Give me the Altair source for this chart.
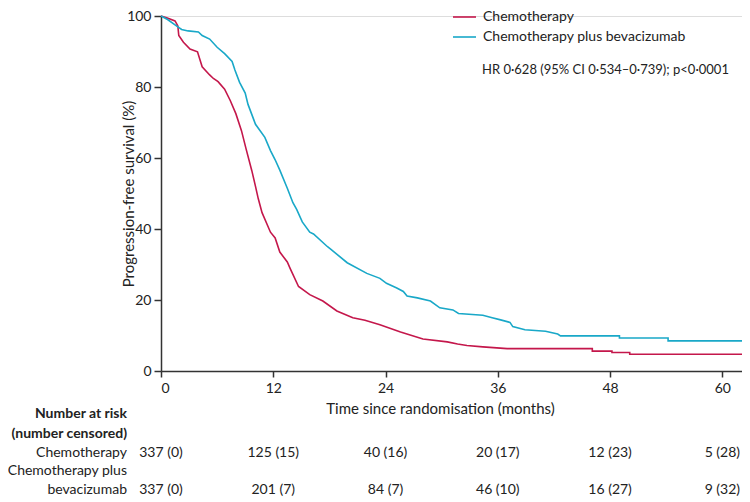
import altair as alt
import pandas as pd

# Kaplan-Meier curves (time in months, progression-free survival %)
chemo_t = [0, 0.6, 1.5, 1.8, 1.9, 2.4, 3.1, 3.9, 4.4, 5.2, 5.6, 6.1, 6.8, 7.4, 8.0, 8.6, 9.1,
           9.7, 10.1, 10.4, 10.8, 11.7, 12.2, 12.7, 13.5, 13.8, 14.7, 15.9, 17.3, 18.8, 20.5,
           21.8, 23.4, 25.6, 28.0, 30.6, 31.7, 32.7, 34.4, 37.0, 46.1, 46.1, 48.2, 48.2,
           50.1, 50.1, 62.1]
chemo_s = [100, 99.5, 98.6, 97.2, 94.5, 92.6, 90.7, 89.9, 85.7, 83.4, 82.4, 81.5, 79.4, 76.2,
           72.5, 67.7, 62.5, 56.5, 52.0, 48.5, 44.6, 39.1, 37.5, 33.5, 30.7, 28.9, 23.8, 21.5,
           19.7, 16.9, 15.0, 14.3, 13.0, 11.0, 9.0, 8.2, 7.6, 7.2, 6.8, 6.3, 6.3, 5.6, 5.6, 5.2,
           5.2, 4.7, 4.7]

bev_t = [0, 0.7, 1.5, 2.2, 2.9, 4.0, 4.4, 5.2, 6.0, 6.8, 7.6, 7.9, 8.4, 9.0, 9.3, 10.1, 11.1,
         11.7, 12.2, 12.7, 13.5, 14.1, 14.5, 15.1, 15.9, 16.3, 17.8, 18.1, 19.9, 22.0, 23.4,
         24.1, 25.2, 25.9, 26.3, 27.4, 28.8, 29.8, 31.2, 31.8, 34.4, 35.4, 36.3, 37.3, 37.6,
         38.9, 41.1, 42.4, 42.7, 49.0, 49.0, 54.2, 54.2, 62.1]
bev_s = [100, 99.0, 97.5, 96.2, 95.8, 95.5, 94.5, 93.5, 91.2, 89.4, 87.2, 84.8, 81.3, 78.3,
         75.1, 69.5, 65.8, 62.1, 59.5, 56.6, 51.5, 47.4, 45.5, 42.0, 39.1, 38.6, 35.0, 34.4,
         30.5, 27.5, 26.1, 24.7, 23.4, 22.4, 21.1, 20.6, 19.7, 17.8, 17.2, 16.2, 15.7, 15.0,
         14.4, 13.7, 12.5, 11.6, 11.2, 10.4, 9.9, 9.9, 9.3, 9.3, 8.5, 8.5]

groups = ["Chemotherapy", "Chemotherapy plus bevacizumab"]
colors = ["#c4174b", "#19a8c8"]

risk_times = [0, 12, 24, 36, 48, 60]
risk_chemo = ["337 (0)", "125 (15)", "40 (16)", "20 (17)", "12 (23)", "5 (28)"]
risk_bev = ["337 (0)", "201 (7)", "84 (7)", "46 (10)", "16 (27)", "9 (32)"]

x_ticks = [0, 12, 24, 36, 48, 60]
y_ticks = [0, 20, 40, 60, 80, 100]

FONT = "Lato"
W, H = 581, 355

curves = pd.concat([
    pd.DataFrame({"t": chemo_t, "s": chemo_s, "g": groups[0], "o": range(len(chemo_t))}),
    pd.DataFrame({"t": bev_t, "s": bev_s, "g": groups[1], "o": range(len(bev_t))}),
])

xscale = alt.Scale(domain=[0, 62.1], nice=False, zero=False)

lines = alt.Chart(curves).mark_line(strokeWidth=1.6).encode(
    x=alt.X("t:Q", scale=xscale,
            axis=alt.Axis(values=x_ticks, title="Time since randomisation (months)",
                          grid=False, tickSize=6, labelPadding=4, titlePadding=6,
                          titleX=279, labelFontSize=14, titleFontSize=15,
                          titleFontWeight="normal", labelFont=FONT, titleFont=FONT,
                          domainColor="#333", tickColor="#333", domainWidth=1.5,
                          tickWidth=1.5, labelColor="#222", titleColor="#222")),
    y=alt.Y("s:Q", scale=alt.Scale(domain=[0, 100], nice=False),
            axis=alt.Axis(values=y_ticks, title="Progression-free survival (%)",
                          grid=False, tickSize=7, labelPadding=3,
                          titleX=-33, titleY=H / 2, titleBaseline="middle",
                          titleAlign="center", titleAngle=270,
                          labelFontSize=14, titleFontSize=15, titleFontWeight="normal",
                          labelFont=FONT, titleFont=FONT, domainColor="#333",
                          tickColor="#333", domainWidth=1.5, tickWidth=1.5,
                          labelColor="#222", titleColor="#222")),
    color=alt.Color("g:N", scale=alt.Scale(domain=groups, range=colors),
                    legend=alt.Legend(orient="none", legendX=291, legendY=-11.5, title=None,
                                      symbolType="stroke", symbolSize=529,
                                      symbolStrokeWidth=1.6, labelOffset=6, labelLimit=400,
                                      labelFont=FONT, labelFontSize=14, labelColor="#222",
                                      rowPadding=0, padding=0)),
    order="o:Q",
)

hr = alt.Chart(pd.DataFrame({"txt": ["HR 0·628 (95% CI 0·534–0·739); p<0·0001"]})).mark_text(
    align="left", baseline="middle", font=FONT, fontSize=13, color="#222"
).encode(x=alt.value(321), y=alt.value(54), text="txt:N")

risk_df = pd.DataFrame({"t": risk_times, "c": risk_chemo, "b": risk_bev})
risk_c = alt.Chart(risk_df).mark_text(baseline="middle", font=FONT, fontSize=14, color="#222").encode(
    x=alt.X("t:Q", scale=xscale), y=alt.value(436.7), text="c:N")
risk_b = alt.Chart(risk_df).mark_text(baseline="middle", font=FONT, fontSize=14, color="#222").encode(
    x=alt.X("t:Q", scale=xscale), y=alt.value(474.3), text="b:N")

row_labels = pd.DataFrame({
    "txt": ["Number at risk", "(number censored)", "Chemotherapy", "Chemotherapy plus", "bevacizumab"],
    "ypos": [397.7, 417.7, 436.7, 455.0, 474.3],
    "w": ["bold", "bold", "normal", "normal", "normal"],
})
lab_bold = alt.Chart(row_labels[row_labels.w == "bold"]).mark_text(
    align="right", baseline="middle", font=FONT, fontSize=14, fontWeight="bold", color="#222"
).encode(x=alt.value(-34), y=alt.Y("ypos:Q", scale=None), text="txt:N")
lab_norm = alt.Chart(row_labels[row_labels.w == "normal"]).mark_text(
    align="right", baseline="middle", font=FONT, fontSize=14, color="#222"
).encode(x=alt.value(-34), y=alt.Y("ypos:Q", scale=None), text="txt:N")

chart = alt.layer(lines, hr, risk_c, risk_b, lab_bold, lab_norm).properties(
    width=W, height=H,
    autosize=alt.AutoSizeParams(type="none"),
    padding={"left": 153, "top": 8, "right": 0, "bottom": 128},
).configure_view(stroke=None).configure(font=FONT)

chart.save("out.html", embed_options={"renderer": "svg", "actions": False})
